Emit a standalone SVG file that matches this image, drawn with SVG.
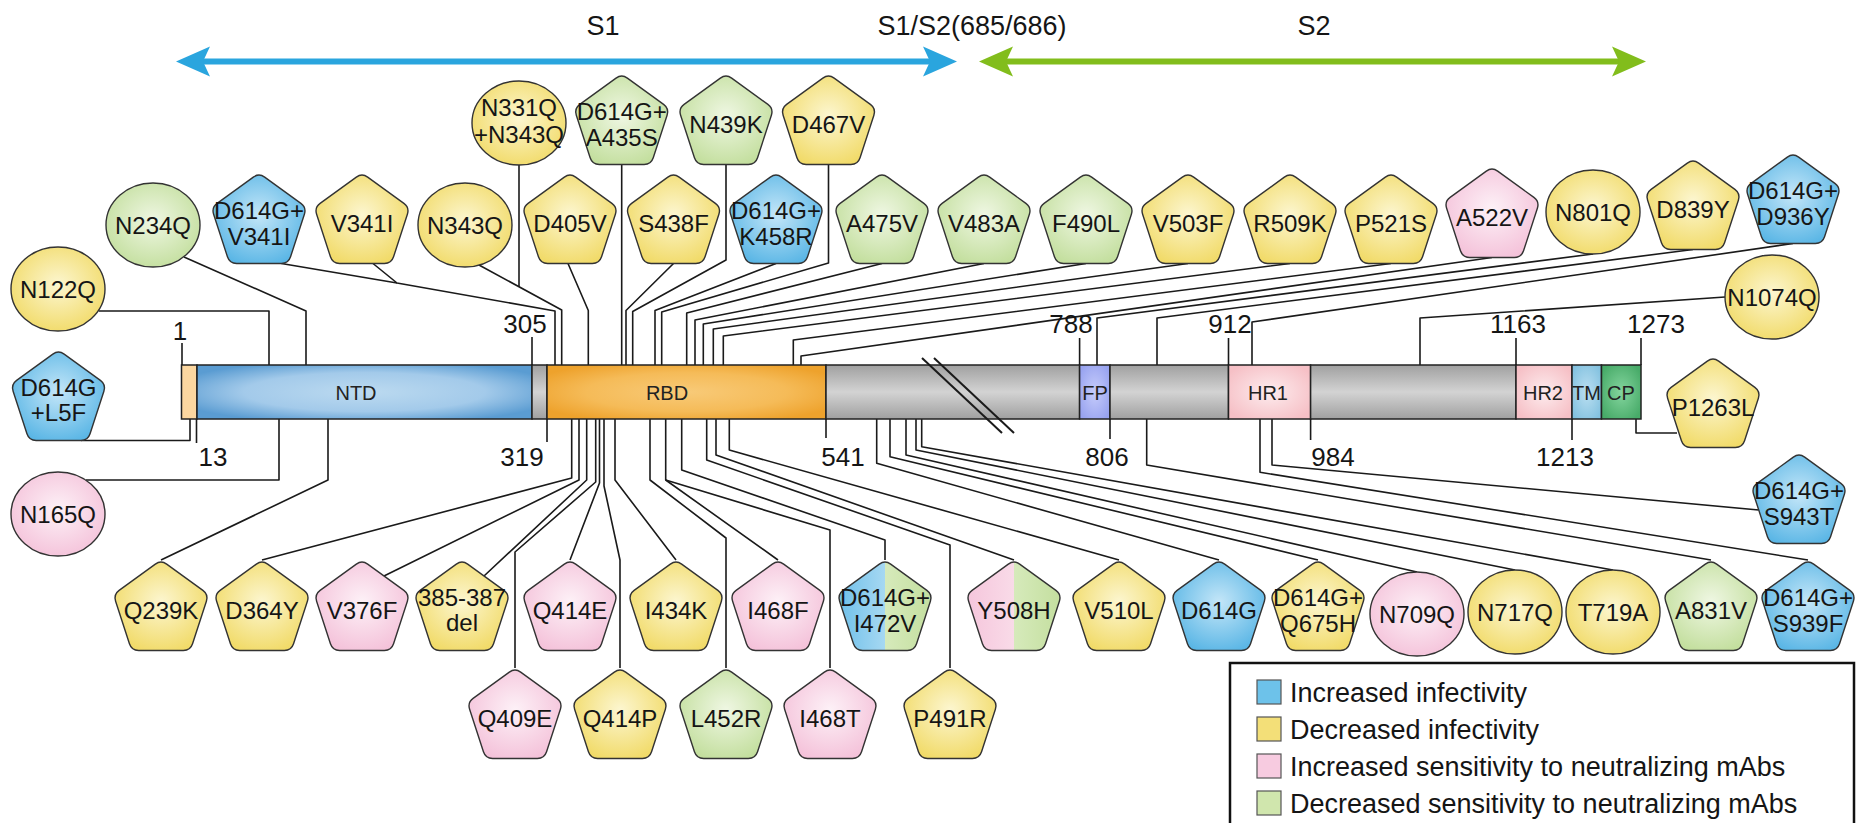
<svg xmlns="http://www.w3.org/2000/svg" width="1860" height="823" viewBox="0 0 1860 823">
<defs>
<style>
text{font-family:"Liberation Sans",Arial,Helvetica,sans-serif;fill:#151515}
.t{font-size:24px;text-anchor:middle}
.h{font-size:27px;text-anchor:middle}
.n{font-size:26px;text-anchor:middle}
.s{font-size:20px;text-anchor:middle;fill:#222}
.lg{font-size:27px}
.c{fill:none;stroke:#1a1a1a;stroke-width:1.6;stroke-linejoin:round}
.k{stroke:#333;stroke-width:1.4}
.seg{stroke:#222;stroke-width:1.5}
.tk{stroke:#1a1a1a;stroke-width:1.6}
.sq{stroke:#555;stroke-width:1.2}
</style>
<radialGradient id="gB" cx="0.5" cy="0.45" r="0.6"><stop offset="0" stop-color="#c4e6f8"/><stop offset="1" stop-color="#58b5e5"/></radialGradient>
<radialGradient id="gY" cx="0.5" cy="0.45" r="0.6"><stop offset="0" stop-color="#fcf6d0"/><stop offset="1" stop-color="#f1da66"/></radialGradient>
<radialGradient id="gP" cx="0.5" cy="0.45" r="0.6"><stop offset="0" stop-color="#fdf1f7"/><stop offset="1" stop-color="#f4c1d9"/></radialGradient>
<radialGradient id="gG" cx="0.5" cy="0.45" r="0.6"><stop offset="0" stop-color="#eff7e3"/><stop offset="1" stop-color="#c2de9c"/></radialGradient>
<linearGradient id="gBG" x1="0" y1="0" x2="1" y2="0"><stop offset="0" stop-color="#6fc0ea"/><stop offset="0.5" stop-color="#a6d8f2"/><stop offset="0.5" stop-color="#d6eabb"/><stop offset="1" stop-color="#c4df9f"/></linearGradient>
<linearGradient id="gPG" x1="0" y1="0" x2="1" y2="0"><stop offset="0" stop-color="#f5c6dc"/><stop offset="0.5" stop-color="#f9dbe8"/><stop offset="0.5" stop-color="#d6eabb"/><stop offset="1" stop-color="#c4df9f"/></linearGradient>
<linearGradient id="bGr" x1="0" y1="0" x2="0" y2="1"><stop offset="0" stop-color="#a0a0a0"/><stop offset="0.5" stop-color="#d3d3d3"/><stop offset="1" stop-color="#a0a0a0"/></linearGradient>
<radialGradient id="bN" cx="0.5" cy="0.5" r="0.6"><stop offset="0" stop-color="#bcdaf0"/><stop offset="0.6" stop-color="#a3caea"/><stop offset="1" stop-color="#5a9cd2"/></radialGradient>
<radialGradient id="bR" cx="0.5" cy="0.5" r="0.6"><stop offset="0" stop-color="#f8ca78"/><stop offset="0.6" stop-color="#f5bb58"/><stop offset="1" stop-color="#eea22c"/></radialGradient>
<radialGradient id="bF" cx="0.5" cy="0.5" r="0.6"><stop offset="0" stop-color="#c6ccfb"/><stop offset="1" stop-color="#98a3f0"/></radialGradient>
<radialGradient id="bH" cx="0.5" cy="0.5" r="0.6"><stop offset="0" stop-color="#fdecee"/><stop offset="1" stop-color="#f6c0c6"/></radialGradient>
<radialGradient id="bT" cx="0.5" cy="0.5" r="0.6"><stop offset="0" stop-color="#bbdff1"/><stop offset="1" stop-color="#84c2e0"/></radialGradient>
<radialGradient id="bC" cx="0.5" cy="0.5" r="0.6"><stop offset="0" stop-color="#84d59e"/><stop offset="1" stop-color="#48ab69"/></radialGradient>
<marker id="mB" markerUnits="userSpaceOnUse" markerWidth="36" markerHeight="32" refX="7" refY="15" orient="auto-start-reverse" viewBox="0 0 36 30"><path d="M0,0 L34,15 L0,30 L7,15 Z" fill="#2aa5de"/></marker>
<marker id="mG" markerUnits="userSpaceOnUse" markerWidth="36" markerHeight="32" refX="7" refY="15" orient="auto-start-reverse" viewBox="0 0 36 30"><path d="M0,0 L34,15 L0,30 L7,15 Z" fill="#82bd1c"/></marker>
<path id="p" d="M5.66,-45.88 L41.89,-19.57 Q47.55,-15.45 45.39,-8.79 L31.55,33.79 Q29.39,40.45 22.39,40.45 L-22.39,40.45 Q-29.39,40.45 -31.55,33.79 L-45.39,-8.79 Q-47.55,-15.45 -41.89,-19.57 L-5.66,-45.88 Q0,-50 5.66,-45.88 Z"/>
</defs>
<rect width="1860" height="823" fill="#fff"/>

<g id="regions">
<line x1="203" y1="61.5" x2="930" y2="61.5" stroke="#2aa5de" stroke-width="6" marker-start="url(#mB)" marker-end="url(#mB)"/>
<line x1="1006" y1="61.5" x2="1619" y2="61.5" stroke="#82bd1c" stroke-width="6" marker-start="url(#mG)" marker-end="url(#mG)"/>
<text class="h" x="603" y="35">S1</text>
<text class="h" x="972" y="35">S1/S2(685/686)</text>
<text class="h" x="1314" y="35">S2</text>
</g>

<g id="connectors" class="c">
<polyline points="98.7,311 269,311 269,365"/>
<polyline points="184,257 306,311 306,365"/>
<polyline points="281.4,263.5 397,283"/>
<polyline points="373,263.5 397,283 555,311 555,365"/>
<polyline points="479,265 561.7,310 561.7,365"/>
<polyline points="519,165 519,286.8"/>
<polyline points="568,263.5 588.3,310.5 588.3,365"/>
<polyline points="621.7,164.5 621.7,365"/>
<polyline points="673.5,263.5 626,310.5 626,365"/>
<polyline points="726,164.5 726,260 632.7,311.5 632.7,365"/>
<polyline points="776,263.5 655,310.5 655,365"/>
<polyline points="828.5,164.5 828.5,263 661.7,312 661.7,365"/>
<polyline points="882,263.5 686.7,313 686.7,365"/>
<polyline points="984,263.5 695,320 695,365"/>
<polyline points="1086,263.5 703.3,324 703.3,365"/>
<polyline points="1188,263.5 713.3,329 713.3,365"/>
<polyline points="1290,263.5 723.3,336 723.3,365"/>
<polyline points="1391,263.5 793.3,340 793.3,365"/>
<polyline points="1492,257.5 801,356 801,365"/>
<polyline points="1593,254 1097,318 1097,365"/>
<polyline points="1693,249.5 1157,318 1157,365"/>
<polyline points="1793,243.5 1252,322 1252,365"/>
<polyline points="1725,297 1420,318 1420,365"/>
<polyline points="81,440.5 190,440.5 190,419"/>
<polyline points="86,480 279,480 279,419"/>
<polyline points="161,560 328,480 328,419"/>
<polyline points="262,560 571.7,478 571.7,419"/>
<polyline points="384,576 579,480 579,419"/>
<polyline points="484,576 586.7,480 586.7,419"/>
<polyline points="515,668 515,552 595.7,482 595.7,419"/>
<polyline points="570,560 599.5,483 599.5,419"/>
<polyline points="620,668 620,560 604,486 604,419"/>
<polyline points="676,560 615,480 615,419"/>
<polyline points="726,668 726,538 650,480 650,419"/>
<polyline points="778,560 665.7,480 665.7,419"/>
<polyline points="830,668 830,530 665.7,480"/>
<polyline points="885,560 885,540 681.7,470 681.7,419"/>
<polyline points="950,668 950,545 706.7,460 706.7,419"/>
<polyline points="1014,560 716,455 716,419"/>
<polyline points="1119,560 729.3,450 729.3,419"/>
<polyline points="1219,560 876.7,463.3 876.7,419"/>
<polyline points="1318,560 890,456.7 890,419"/>
<polyline points="1417,572 906,455 906,419"/>
<polyline points="1515,570 916,450 916,419"/>
<polyline points="1613,570 921.7,446.7 921.7,419"/>
<polyline points="1711,560 1146.7,465 1146.7,419"/>
<polyline points="1808,560 1260,472.3 1260,419"/>
<polyline points="1758.7,510 1272,465 1272,419"/>
<polyline points="1677,433 1636,433 1636,419"/>
</g>

<g id="protein">
<rect class="seg" x="181.5" y="365" width="15.5" height="54" fill="#fcd7a0"/>
<rect class="seg" x="197" y="365" width="335" height="54" fill="url(#bN)"/>
<rect class="seg" x="532" y="365" width="15" height="54" fill="url(#bGr)"/>
<rect class="seg" x="547" y="365" width="279" height="54" fill="url(#bR)"/>
<rect class="seg" x="826" y="365" width="253.6" height="54" fill="url(#bGr)"/>
<rect class="seg" x="1079.6" y="365" width="30.4" height="54" fill="url(#bF)"/>
<rect class="seg" x="1110" y="365" width="118.5" height="54" fill="url(#bGr)"/>
<rect class="seg" x="1228.5" y="365" width="82.1" height="54" fill="url(#bH)"/>
<rect class="seg" x="1310.6" y="365" width="205.4" height="54" fill="url(#bGr)"/>
<rect class="seg" x="1516" y="365" width="56" height="54" fill="url(#bH)"/>
<rect class="seg" x="1572" y="365" width="29.5" height="54" fill="url(#bT)"/>
<rect class="seg" x="1601.5" y="365" width="39.5" height="54" fill="url(#bC)"/>
<line x1="922" y1="358" x2="1002" y2="433" stroke="#1a1a1a" stroke-width="2"/>
<line x1="934" y1="358" x2="1014" y2="433" stroke="#1a1a1a" stroke-width="2"/>
<text class="s" x="356" y="400">NTD</text>
<text class="s" x="667" y="400">RBD</text>
<text class="s" x="1095" y="400">FP</text>
<text class="s" x="1268" y="400">HR1</text>
<text class="s" x="1543" y="400">HR2</text>
<text class="s" x="1586.5" y="400">TM</text>
<text class="s" x="1621" y="400">CP</text>
</g>

<g id="ticks">
<line class="tk" x1="182" y1="343" x2="182" y2="365"/>
<line class="tk" x1="532" y1="337" x2="532" y2="365"/>
<line class="tk" x1="1079.6" y1="338" x2="1079.6" y2="365"/>
<line class="tk" x1="1228.5" y1="338" x2="1228.5" y2="365"/>
<line class="tk" x1="1516" y1="338" x2="1516" y2="365"/>
<line class="tk" x1="1641" y1="338" x2="1641" y2="365"/>
<line class="tk" x1="196.5" y1="419" x2="196.5" y2="443"/>
<line class="tk" x1="547" y1="419" x2="547" y2="442"/>
<line class="tk" x1="826" y1="419" x2="826" y2="438"/>
<line class="tk" x1="1110" y1="419" x2="1110" y2="439"/>
<line class="tk" x1="1310.6" y1="419" x2="1310.6" y2="440"/>
<line class="tk" x1="1572" y1="419" x2="1572" y2="440"/>
<text class="n" x="180" y="340">1</text>
<text class="n" x="525" y="333">305</text>
<text class="n" x="1071" y="333">788</text>
<text class="n" x="1230" y="333">912</text>
<text class="n" x="1518" y="333">1163</text>
<text class="n" x="1656" y="333">1273</text>
<text class="n" x="213" y="466">13</text>
<text class="n" x="522" y="466">319</text>
<text class="n" x="843" y="466">541</text>
<text class="n" x="1107" y="466">806</text>
<text class="n" x="1333" y="466">984</text>
<text class="n" x="1565" y="466">1213</text>
</g>

<g id="n-N122Q"><ellipse class="k" cx="58" cy="289" rx="47" ry="42" fill="url(#gY)"/><text class="t" x="58" y="298">N122Q</text></g>
<g id="n-D614G-L5F"><use href="#p" class="k" x="58.5" y="400" fill="url(#gB)"/><text class="t" x="58.5" y="396">D614G</text><text class="t" x="58.5" y="421">+L5F</text></g>
<g id="n-N165Q"><ellipse class="k" cx="58" cy="514" rx="47" ry="42" fill="url(#gP)"/><text class="t" x="58" y="523">N165Q</text></g>

<g id="n-N331Q-N343Q"><ellipse class="k" cx="519" cy="123" rx="47" ry="42" fill="url(#gY)"/><text class="t" x="519" y="116">N331Q</text><text class="t" x="519" y="143">+N343Q</text></g>
<g id="n-D614G-A435S"><use href="#p" class="k" x="621.7" y="124" fill="url(#gG)"/><text class="t" x="621.7" y="120">D614G+</text><text class="t" x="621.7" y="146">A435S</text></g>
<g id="n-N439K"><use href="#p" class="k" x="726" y="124" fill="url(#gG)"/><text class="t" x="726" y="133">N439K</text></g>
<g id="n-D467V"><use href="#p" class="k" x="828.5" y="124" fill="url(#gY)"/><text class="t" x="828.5" y="133">D467V</text></g>

<g id="n-N234Q"><ellipse class="k" cx="153" cy="225" rx="47" ry="42" fill="url(#gG)"/><text class="t" x="153" y="234">N234Q</text></g>
<g id="n-D614G-V341I"><use href="#p" class="k" x="259" y="223" fill="url(#gB)"/><text class="t" x="259" y="219">D614G+</text><text class="t" x="259" y="245">V341I</text></g>
<g id="n-V341I"><use href="#p" class="k" x="362" y="223" fill="url(#gY)"/><text class="t" x="362" y="232">V341I</text></g>
<g id="n-N343Q"><ellipse class="k" cx="465" cy="225" rx="47" ry="42" fill="url(#gY)"/><text class="t" x="465" y="234">N343Q</text></g>
<g id="n-D405V"><use href="#p" class="k" x="570" y="223" fill="url(#gY)"/><text class="t" x="570" y="232">D405V</text></g>
<g id="n-S438F"><use href="#p" class="k" x="673.5" y="223" fill="url(#gY)"/><text class="t" x="673.5" y="232">S438F</text></g>
<g id="n-D614G-K458R"><use href="#p" class="k" x="776" y="223" fill="url(#gB)"/><text class="t" x="776" y="219">D614G+</text><text class="t" x="776" y="245">K458R</text></g>
<g id="n-A475V"><use href="#p" class="k" x="882" y="223" fill="url(#gG)"/><text class="t" x="882" y="232">A475V</text></g>
<g id="n-V483A"><use href="#p" class="k" x="984" y="223" fill="url(#gG)"/><text class="t" x="984" y="232">V483A</text></g>
<g id="n-F490L"><use href="#p" class="k" x="1086" y="223" fill="url(#gG)"/><text class="t" x="1086" y="232">F490L</text></g>
<g id="n-V503F"><use href="#p" class="k" x="1188" y="223" fill="url(#gY)"/><text class="t" x="1188" y="232">V503F</text></g>
<g id="n-R509K"><use href="#p" class="k" x="1290" y="223" fill="url(#gY)"/><text class="t" x="1290" y="232">R509K</text></g>
<g id="n-P521S"><use href="#p" class="k" x="1391" y="223" fill="url(#gY)"/><text class="t" x="1391" y="232">P521S</text></g>
<g id="n-A522V"><use href="#p" class="k" x="1492" y="217" fill="url(#gP)"/><text class="t" x="1492" y="226">A522V</text></g>
<g id="n-N801Q"><ellipse class="k" cx="1593" cy="212" rx="47" ry="42" fill="url(#gY)"/><text class="t" x="1593" y="221">N801Q</text></g>
<g id="n-D839Y"><use href="#p" class="k" x="1693" y="209" fill="url(#gY)"/><text class="t" x="1693" y="218">D839Y</text></g>
<g id="n-D614G-D936Y"><use href="#p" class="k" x="1793" y="203" fill="url(#gB)"/><text class="t" x="1793" y="199">D614G+</text><text class="t" x="1793" y="225">D936Y</text></g>

<g id="n-N1074Q"><ellipse class="k" cx="1772" cy="297" rx="47" ry="42" fill="url(#gY)"/><text class="t" x="1772" y="306">N1074Q</text></g>
<g id="n-P1263L"><use href="#p" class="k" x="1713" y="407" fill="url(#gY)"/><text class="t" x="1713" y="416">P1263L</text></g>
<g id="n-D614G-S943T"><use href="#p" class="k" x="1799" y="503" fill="url(#gB)"/><text class="t" x="1799" y="499">D614G+</text><text class="t" x="1799" y="525">S943T</text></g>

<g id="n-Q239K"><use href="#p" class="k" x="161" y="610" fill="url(#gY)"/><text class="t" x="161" y="619">Q239K</text></g>
<g id="n-D364Y"><use href="#p" class="k" x="262" y="610" fill="url(#gY)"/><text class="t" x="262" y="619">D364Y</text></g>
<g id="n-V376F"><use href="#p" class="k" x="362" y="610" fill="url(#gP)"/><text class="t" x="362" y="619">V376F</text></g>
<g id="n-385-387del"><use href="#p" class="k" x="462" y="610" fill="url(#gY)"/><text class="t" x="462" y="606">385-387</text><text class="t" x="462" y="631">del</text></g>
<g id="n-Q414E"><use href="#p" class="k" x="570" y="610" fill="url(#gP)"/><text class="t" x="570" y="619">Q414E</text></g>
<g id="n-I434K"><use href="#p" class="k" x="676" y="610" fill="url(#gY)"/><text class="t" x="676" y="619">I434K</text></g>
<g id="n-I468F"><use href="#p" class="k" x="778" y="610" fill="url(#gP)"/><text class="t" x="778" y="619">I468F</text></g>
<g id="n-D614G-I472V"><use href="#p" class="k" x="885" y="610" fill="url(#gBG)"/><text class="t" x="885" y="606">D614G+</text><text class="t" x="885" y="632">I472V</text></g>
<g id="n-Y508H"><use href="#p" class="k" x="1014" y="610" fill="url(#gPG)"/><text class="t" x="1014" y="619">Y508H</text></g>
<g id="n-V510L"><use href="#p" class="k" x="1119" y="610" fill="url(#gY)"/><text class="t" x="1119" y="619">V510L</text></g>
<g id="n-D614G"><use href="#p" class="k" x="1219" y="610" fill="url(#gB)"/><text class="t" x="1219" y="619">D614G</text></g>
<g id="n-D614G-Q675H"><use href="#p" class="k" x="1318" y="610" fill="url(#gY)"/><text class="t" x="1318" y="606">D614G+</text><text class="t" x="1318" y="632">Q675H</text></g>
<g id="n-N709Q"><ellipse class="k" cx="1417" cy="614" rx="47" ry="42" fill="url(#gP)"/><text class="t" x="1417" y="623">N709Q</text></g>
<g id="n-N717Q"><ellipse class="k" cx="1515" cy="612" rx="47" ry="42" fill="url(#gY)"/><text class="t" x="1515" y="621">N717Q</text></g>
<g id="n-T719A"><ellipse class="k" cx="1613" cy="612" rx="47" ry="42" fill="url(#gY)"/><text class="t" x="1613" y="621">T719A</text></g>
<g id="n-A831V"><use href="#p" class="k" x="1711" y="610" fill="url(#gG)"/><text class="t" x="1711" y="619">A831V</text></g>
<g id="n-D614G-S939F"><use href="#p" class="k" x="1808" y="610" fill="url(#gB)"/><text class="t" x="1808" y="606">D614G+</text><text class="t" x="1808" y="632">S939F</text></g>

<g id="n-Q409E"><use href="#p" class="k" x="515" y="718" fill="url(#gP)"/><text class="t" x="515" y="727">Q409E</text></g>
<g id="n-Q414P"><use href="#p" class="k" x="620" y="718" fill="url(#gY)"/><text class="t" x="620" y="727">Q414P</text></g>
<g id="n-L452R"><use href="#p" class="k" x="726" y="718" fill="url(#gG)"/><text class="t" x="726" y="727">L452R</text></g>
<g id="n-I468T"><use href="#p" class="k" x="830" y="718" fill="url(#gP)"/><text class="t" x="830" y="727">I468T</text></g>
<g id="n-P491R"><use href="#p" class="k" x="950" y="718" fill="url(#gY)"/><text class="t" x="950" y="727">P491R</text></g>

<g id="legend">
<rect x="1230" y="663" width="624" height="175" fill="#fff" stroke="#111" stroke-width="2.5"/>
<rect class="sq" x="1257" y="680" width="24" height="24" fill="#6dc2ea"/>
<rect class="sq" x="1257" y="717" width="24" height="24" fill="#f3df78"/>
<rect class="sq" x="1257" y="754" width="24" height="24" fill="#f7cbe0"/>
<rect class="sq" x="1257" y="791" width="24" height="24" fill="#d0e6ad"/>
<text class="lg" x="1290" y="702">Increased infectivity</text>
<text class="lg" x="1290" y="739">Decreased infectivity</text>
<text class="lg" x="1290" y="776">Increased sensitivity to neutralizing mAbs</text>
<text class="lg" x="1290" y="813">Decreased sensitivity to neutralizing mAbs</text>
</g>
</svg>
